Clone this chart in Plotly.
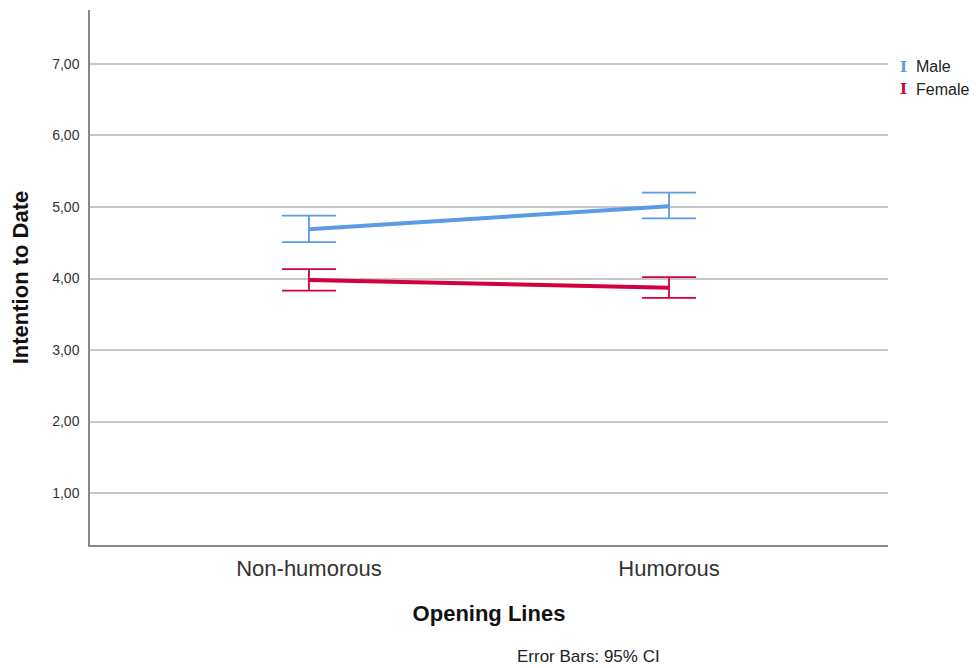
import plotly.graph_objects as go

categories = ["Non-humorous", "Humorous"]
male_mean = [4.69, 5.01]
male_upper = [4.88, 5.20]
male_lower = [4.51, 4.84]
female_mean = [3.98, 3.87]
female_upper = [4.13, 4.02]
female_lower = [3.83, 3.73]
y_ticks = [1, 2, 3, 4, 5, 6, 7]

MALE_C = "#5B9BE6"
FEMALE_C = "#D3003F"
FONT = "Liberation Sans, Arial, sans-serif"

fig = go.Figure()
for name, mean, up, lo, col in [
    ("Male", male_mean, male_upper, male_lower, MALE_C),
    ("Female", female_mean, female_upper, female_lower, FEMALE_C),
]:
    fig.add_trace(go.Scatter(
        x=[0, 1], y=mean, mode="lines", name=name,
        line=dict(color=col, width=4),
        error_y=dict(type="data", symmetric=False,
                     array=[u - m for u, m in zip(up, mean)],
                     arrayminus=[m - l for m, l in zip(mean, lo)],
                     color=col, thickness=1.8, width=27),
        showlegend=False,
    ))

fig.update_layout(
    width=971, height=660,
    margin=dict(l=82, r=91, t=2, b=123),
    paper_bgcolor="white", plot_bgcolor="white",
    separators=",.",
    font=dict(family=FONT, color="#222"),
    xaxis=dict(
        range=[-0.608, 1.608], tickvals=[0, 1], ticktext=categories,
        showgrid=False, zeroline=False, showline=True, linecolor="#888", linewidth=1.5,
        ticks="", tickfont=dict(size=22, color="#333"), ticklabelstandoff=3,
        title=dict(text="<b>Opening Lines</b>", font=dict(size=22, color="#111"), standoff=25),
    ),
    yaxis=dict(
        range=[0.273, 7.755], tickvals=y_ticks, tickformat=".2f",
        showgrid=True, gridcolor="#c8c8c8", gridwidth=1.5, zeroline=False,
        showline=True, linecolor="#888", linewidth=1.5,
        ticks="", tickfont=dict(size=14, color="#333"), ticklabelstandoff=6,
        title=dict(text="<b>Intention to Date</b>", font=dict(size=22, color="#111"), standoff=18),
    ),
)

fig.add_annotation(text="Error Bars: 95% CI", xref="paper", yref="paper",
                   x=0.625, y=-0.208, showarrow=False, xanchor="center", yanchor="middle",
                   font=dict(size=17, color="#222"))

for name, col, yy in [("Male", MALE_C, 0.8935), ("Female", FEMALE_C, 0.852)]:
    fig.add_annotation(text=name, xref="paper", yref="paper", x=1.0, y=yy, xshift=26,
                       showarrow=False, xanchor="left", yanchor="middle",
                       font=dict(size=16, color="#222"))
    fig.add_annotation(text="<b>I</b>", xref="paper", yref="paper", x=1.0, y=yy, xshift=15,
                       showarrow=False, xanchor="center", yanchor="middle",
                       font=dict(size=15, color=col, family="DejaVu Serif"))

fig.write_html("out.html")
